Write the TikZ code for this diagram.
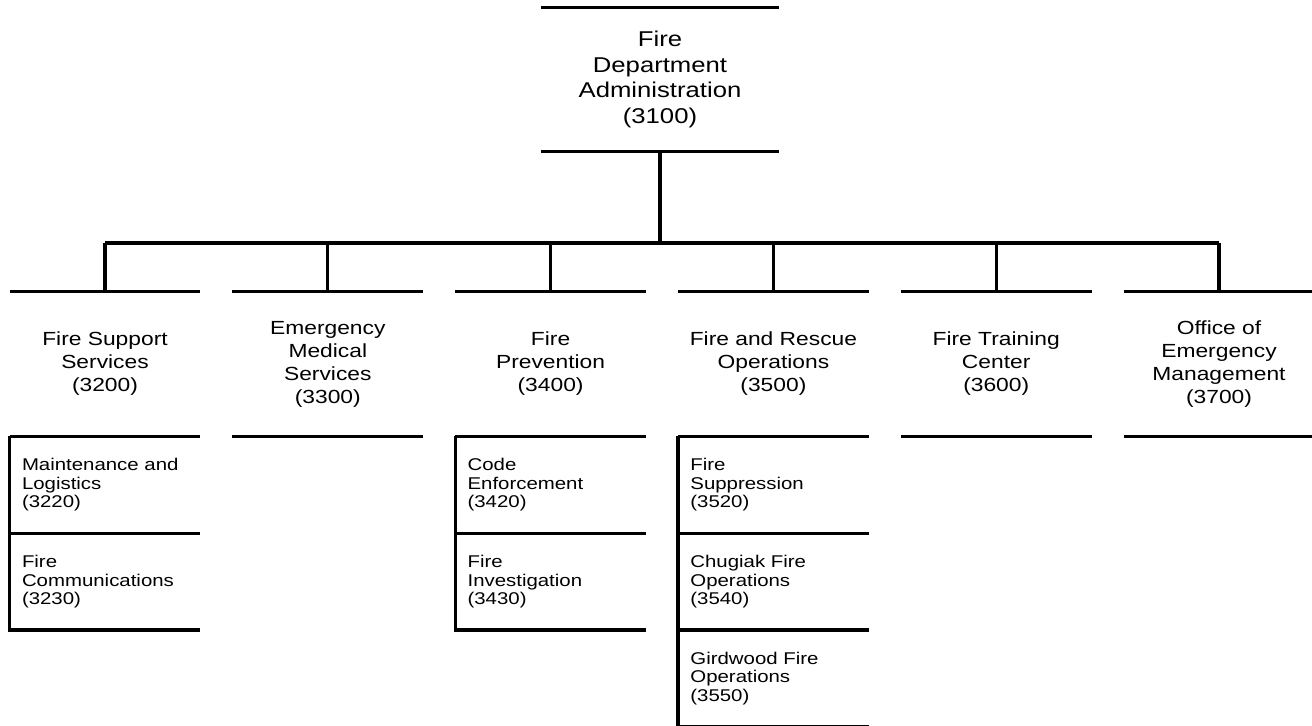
\documentclass[tikz,border=0pt]{standalone}
\usepackage{fontspec}
\setmainfont{Liberation Sans}[FakeStretch=1.2]
\usepackage{tikz}
\usetikzlibrary{positioning}
\tikzset{
  unit/.style={minimum width=95pt, minimum height=72pt, inner sep=0pt,
    align=center, font=\fontsize{9.5}{11.5}\selectfont},
  head/.style={unit, minimum width=119pt, minimum height=71.5pt,
    font=\fontsize{10.7}{12.8}\selectfont},
  sub/.style={minimum width=95pt, minimum height=48pt, inner sep=0pt,
    inner xsep=6pt, text width=83pt, align=left,
    font=\fontsize{8.5}{9.3}\selectfont},
  rule/.style={line width=1.6pt}
}

\begin{document}
\begin{tikzpicture}[x=1pt, y=-1pt]
  \useasboundingbox (0,0) rectangle (656,362.5);

  % head of the department
  \node[head] (adm) at (330,39.75) {Fire\\Department\\Administration\\(3100)};
  \coordinate (bus) at (330,121.5);

  % divisions
  \node[unit] (fss) at (52.5,182) {Fire Support\\Services\\(3200)};
  \node[unit, right=16pt of fss] (ems) {Emergency\\Medical\\Services\\(3300)};
  \node[unit, right=16pt of ems] (fpv) {Fire\\Prevention\\(3400)};
  \node[unit, right=16pt of fpv] (fro) {Fire and Rescue\\Operations\\(3500)};
  \node[unit, right=16pt of fro] (ftc) {Fire Training\\Center\\(3600)};
  \node[unit, right=16pt of ftc] (oem) {Office of\\Emergency\\Management\\(3700)};

  % sections
  \node[sub, below=0pt of fss] (mnt) {Maintenance and\\Logistics\\(3220)};
  \node[sub, below=0pt of mnt] (fcm) {Fire\\Communications\\(3230)};
  \node[sub, below=0pt of fpv] (cde) {Code\\Enforcement\\(3420)};
  \node[sub, below=0pt of cde] (inv) {Fire\\Investigation\\(3430)};
  \node[sub, below=0pt of fro] (sup) {Fire\\Suppression\\(3520)};
  \node[sub, below=0pt of sup] (chg) {Chugiak Fire\\Operations\\(3540)};
  \node[sub, below=0pt of chg] (gwd) {Girdwood Fire\\Operations\\(3550)};

  % rules
  \draw[rule] (adm.north west) -- (adm.north east);
  \draw[rule] (adm.south west) -- (adm.south east);
  \draw[rule] (adm.south) -- (bus);
  \draw[rule] (fss.north |- bus) -- (oem.north |- bus);
  \foreach \n in {fss,ems,fpv,fro,ftc,oem} {
    \draw[rule] (\n.north |- bus) -- (\n.north);
    \draw[rule] (\n.north west) -- (\n.north east);
    \draw[rule] (\n.south west) -- (\n.south east);
  }
  \foreach \n in {mnt,fcm,cde,inv,sup,chg,gwd}
    \draw[rule] (\n.north west) -- (\n.south west) -- (\n.south east);
\end{tikzpicture}
\end{document}
